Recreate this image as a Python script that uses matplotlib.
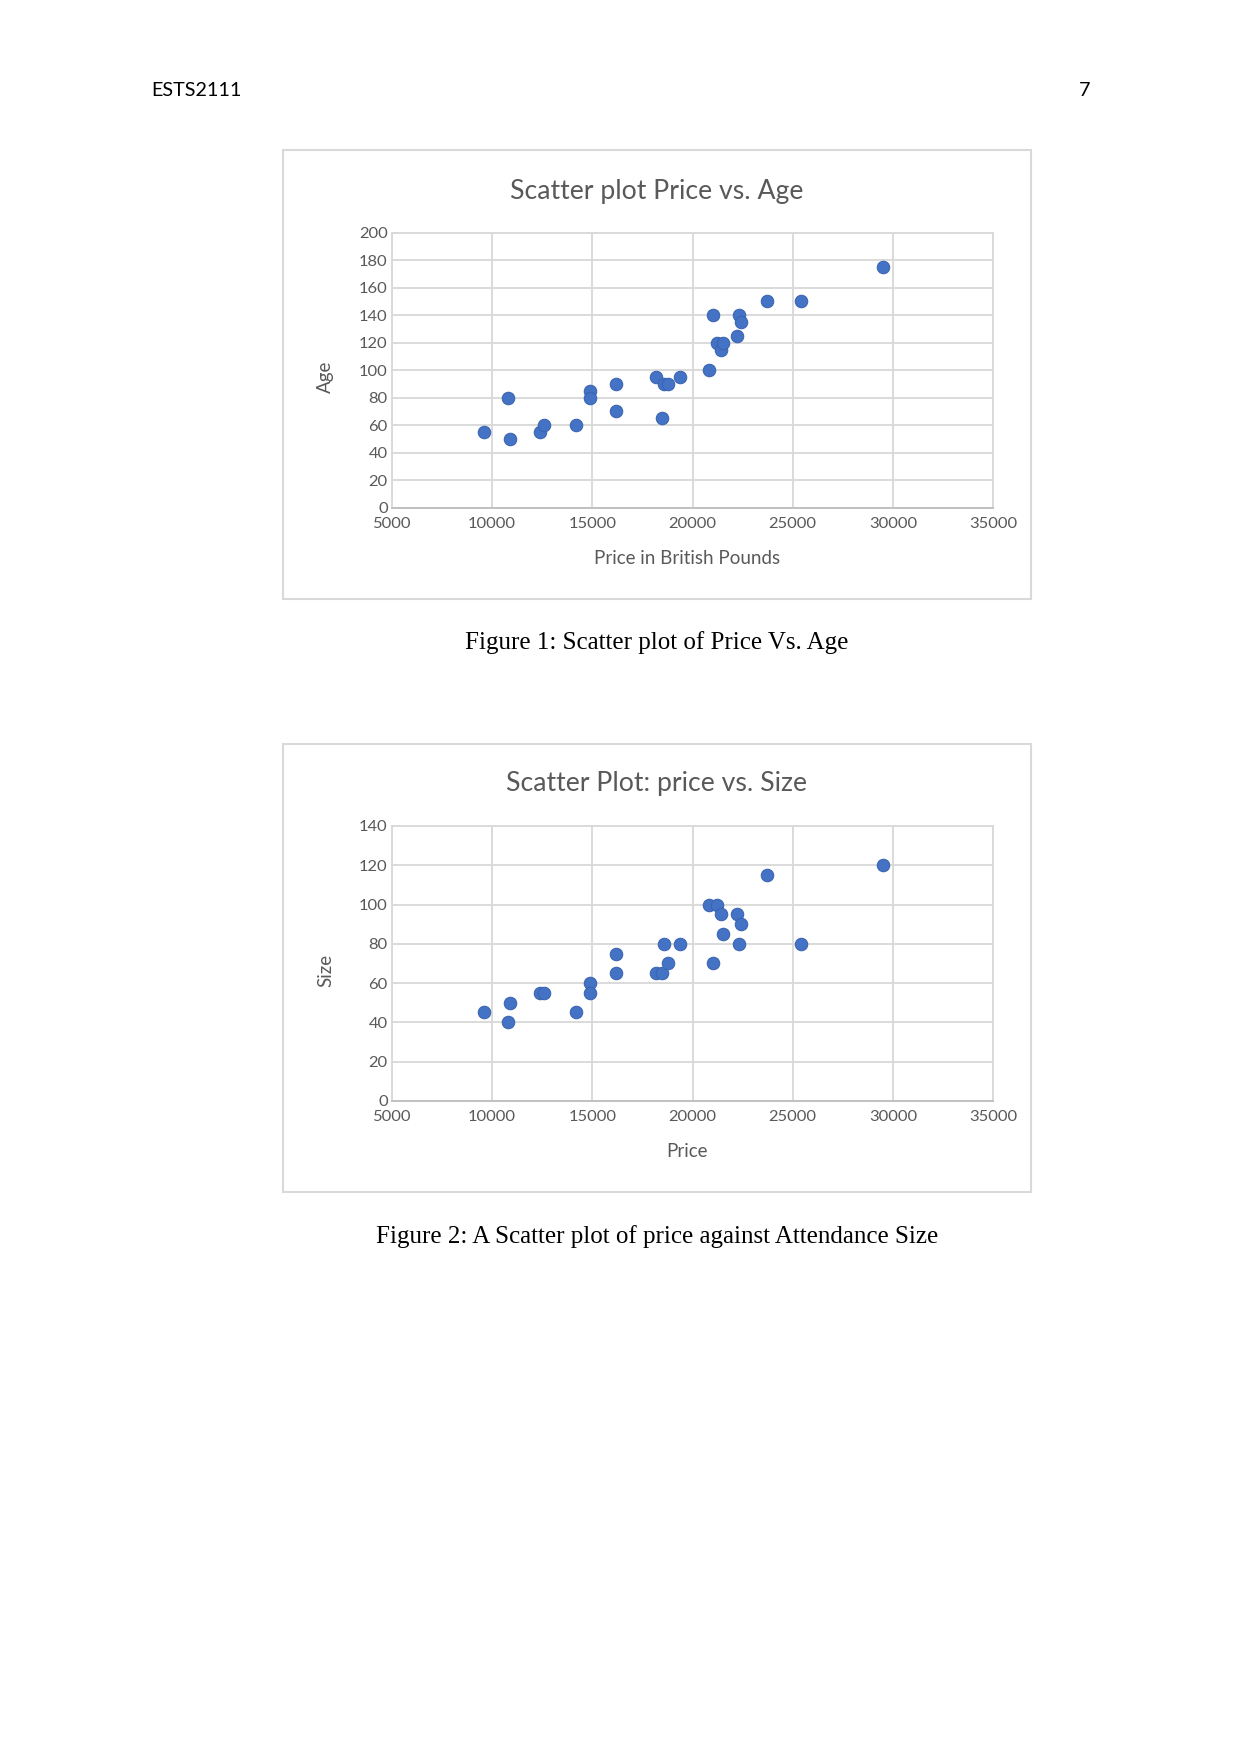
#two excel-style scatter charts on a report page

import matplotlib
matplotlib.use('Agg')
import matplotlib.pyplot as plt
from matplotlib.patches import Rectangle

price = [9600, 10800, 10900, 12400, 12600, 14200, 14900, 14900, 16200, 16200,
         18200, 18500, 18600, 18800, 19400, 20800, 21000, 21200, 21400, 21500,
         22200, 22300, 22400, 23700, 25400, 29500]
age = [55, 80, 50, 55, 60, 60, 85, 80, 90, 70,
       95, 65, 90, 90, 95, 100, 140, 120, 115, 120,
       125, 140, 135, 150, 150, 175]
size = [45, 40, 50, 55, 55, 45, 60, 55, 75, 65,
        65, 65, 80, 70, 80, 100, 70, 100, 95, 85,
        95, 80, 90, 115, 80, 120]

x_ticks = [5000, 10000, 15000, 20000, 25000, 30000, 35000]
age_ticks = list(range(0, 201, 20))
size_ticks = list(range(0, 141, 20))

W, H = 1241, 1754
DPI = 150
BLUE = '#4472C4'
GREY_TXT = '#595959'
GRID = '#d9d9d9'
SANS = ['Lato', 'DejaVu Sans']
SERIF = ['Liberation Serif', 'DejaVu Serif']


def fx(px):
    return px / W


def fy(py):
    return 1 - py / H


def draw_chart(fig, box, plot, title, xlabel, ylabel, yvals, yticks, ylim, title_dy=42):
    # box and plot in page pixels: (left, top, right, bottom)
    bl, bt, br, bb = box
    fig.patches.append(Rectangle((fx(bl), fy(bb)), fx(br - bl), (bb - bt) / H,
                                 transform=fig.transFigure, facecolor='white',
                                 edgecolor=GRID, lw=1.0, zorder=-10))
    pl, pt, pr, pb = plot
    ax = fig.add_axes([fx(pl), fy(pb), fx(pr - pl), (pb - pt) / H])
    ax.set_zorder(1)
    ax.patch.set_alpha(0)
    ax.scatter(price, yvals, s=36, color=BLUE, edgecolors='#3a64b0',
               linewidths=0.5, zorder=3, clip_on=False)
    ax.set_xlim(5000, 35000)
    ax.set_ylim(*ylim)
    ax.set_xticks(x_ticks)
    ax.set_yticks(yticks)
    ax.grid(True, color=GRID, lw=0.9)
    ax.set_axisbelow(True)
    for s in ax.spines.values():
        s.set_color(GRID)
        s.set_linewidth(0.9)
    ax.spines['bottom'].set_color('#bfbfbf')
    ax.tick_params(length=0, labelsize=7.9, labelcolor=GREY_TXT)
    ax.tick_params(axis='x', pad=4.5)
    ax.tick_params(axis='y', pad=2)
    for lab in ax.get_xticklabels() + ax.get_yticklabels():
        lab.set_family(SANS)
    ax.set_xlabel(xlabel, fontsize=9, color=GREY_TXT, family=SANS, va='center')
    ax.set_ylabel(ylabel, fontsize=9, color=GREY_TXT, family=SANS, va='center')
    ax.xaxis.set_label_coords(0.491, -0.183)
    ax.yaxis.set_label_coords(-0.110, 0.475)
    fig.text(fx((bl + br) / 2), fy(bt + title_dy), title, ha='center', va='center',
             fontsize=12.8, color=GREY_TXT, family=SANS)
    return ax


def show_page():
    fig = plt.figure(figsize=(W / DPI, H / DPI), dpi=DPI)
    fig.patch.set_facecolor('white')

    fig.text(fx(151), fy(90), 'ESTS2111', ha='left', va='center',
             fontsize=9.5, color='black', family=SANS)
    fig.text(fx(1090), fy(90), '7', ha='right', va='center',
             fontsize=9.5, color='black', family=SANS)

    draw_chart(fig, (283, 150, 1031, 599), (391.8, 232.5, 993.2, 507.8),
               'Scatter plot Price vs. Age', 'Price in British Pounds', 'Age',
               age, age_ticks, (0, 200))
    fig.text(fx(657), fy(643), 'Figure 1: Scatter plot of Price Vs. Age',
             ha='center', va='center', fontsize=12, family=SERIF)

    draw_chart(fig, (283, 744, 1031, 1192), (391.8, 826, 993.2, 1100.8),
               'Scatter Plot: price vs. Size', 'Price', 'Size',
               size, size_ticks, (0, 140), title_dy=40)
    fig.text(fx(657), fy(1237), 'Figure 2: A Scatter plot of price against Attendance Size',
             ha='center', va='center', fontsize=12, family=SERIF)

    fig.savefig('out.png', dpi=DPI)


if __name__ == '__main__':
    show_page()
